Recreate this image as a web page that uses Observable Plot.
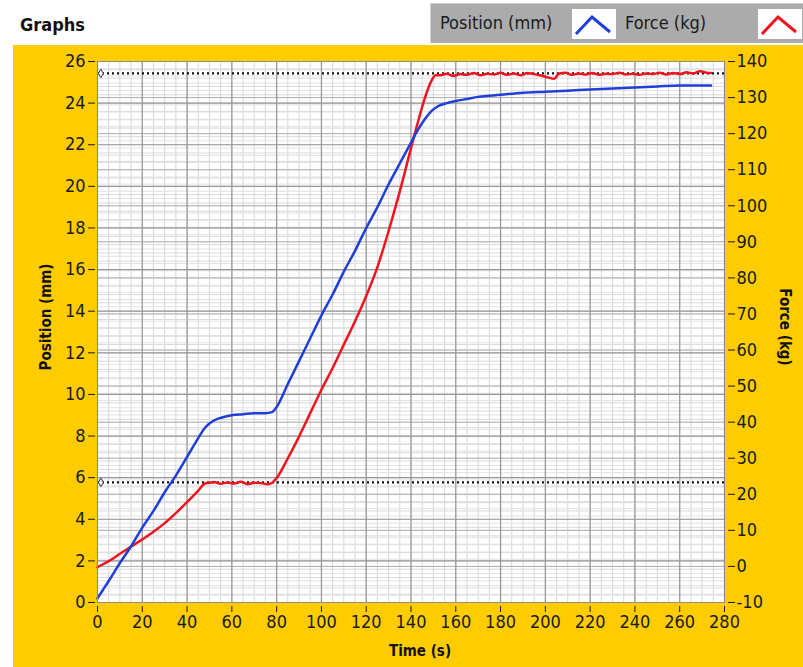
<!DOCTYPE html>
<html>
<head>
<meta charset="utf-8">
<script src="https://cdn.jsdelivr.net/npm/d3@7"></script>
<script src="https://cdn.jsdelivr.net/npm/@observablehq/plot@0.6"></script>
<style>
  html, body { margin: 0; padding: 0; background: #ffffff; }
  #wrap { position: relative; width: 803px; height: 667px; overflow: hidden; font-family: "DejaVu Sans Condensed", "Roboto", sans-serif; }
  #title { position: absolute; left: 20px; top: 14px; font: bold 18px "DejaVu Sans Condensed", "Liberation Sans", sans-serif; color: #111; }
  #legend { position: absolute; left: 430px; top: 3px; width: 373px; height: 40px; background: #ababab; border-top: 1px solid #d0d0d0; border-left: 1px solid #d0d0d0; box-sizing: border-box; }
  .ltxt { position: absolute; top: 8px; font: 18px "DejaVu Sans Condensed", sans-serif; color: #1a1a1a; }
  .lbox { position: absolute; top: 5px; width: 44px; height: 30px; background: #fff; }
  #panel { position: absolute; left: 13px; top: 45px; width: 790px; height: 622px; background: #ffcc00; }
  .axlabel { position: absolute; font: bold 15px "DejaVu Sans Condensed", "Liberation Sans", sans-serif; color: #111; white-space: nowrap; }
</style>
</head>
<body>
<div id="wrap">
  <div id="title">Graphs</div>
  <div id="legend"></div>
  <div id="panel"></div>
</div>
<script>
// ---------------- data ----------------
const seriesNames = ["Position (mm)", "Force (kg)"];
const seriesColors = ["#1f3fd8", "#f0141e"];

const posTime = [0,3,6,10,15,20,25,30,35,40,45,48,50,53,56,60,65,70,75,78,80,85,90,95,100,105,110,115,120,125,130,135,140,143,146,149,152,156,160,165,170,180,190,200,210,220,230,240,250,260,270,274];
const posMm   = [0.2,0.7,1.2,1.9,2.7,3.6,4.4,5.3,6.1,7.0,7.9,8.4,8.6,8.8,8.9,9.0,9.05,9.1,9.1,9.15,9.4,10.5,11.6,12.7,13.8,14.8,15.9,16.9,18.0,19.0,20.1,21.1,22.1,22.7,23.2,23.6,23.85,24.0,24.1,24.2,24.3,24.4,24.5,24.55,24.6,24.65,24.7,24.75,24.8,24.85,24.85,24.85];

const forceTime = [0,3,6,10,15,20,25,30,35,40,45,48,50,52,55,58,61,64,67,70,73,76,78,80,85,90,95,100,105,110,115,120,125,130,135,140,143,146,149,151,
  153,156,159,162,165,168,171,174,177,180,183,186,189,192,195,198,201,204,206,209,212,215,218,221,224,227,230,233,236,239,242,245,248,251,254,257,260,263,266,269,272,274];
const forceKg = [-0.2,0.8,1.8,3.5,5.5,7.5,9.6,12.0,14.8,17.8,21.0,23.0,23.2,23.4,22.9,23.3,23.0,23.5,22.8,23.2,23.1,22.8,23.2,24.5,30,36,42.5,49,55,61.5,68,75,83,93,104,116,123,129.5,134.5,136.2,
  136.2,136.6,136.0,136.5,136.3,136.8,136.2,136.6,136.4,136.9,136.3,136.7,136.2,136.8,136.5,136.1,135.6,135.2,136.6,136.9,136.3,136.7,136.4,136.8,136.3,136.6,136.5,136.9,136.4,136.6,136.3,136.7,136.5,136.9,136.4,136.8,136.5,137.0,136.7,137.3,136.9,136.8];

const cursorKg = [136.7, 23.3];
const cursorTime = [1.5, 1.5];

const timeTicks = [0,20,40,60,80,100,120,140,160,180,200,220,240,260,280];
const posTicks = [0,2,4,6,8,10,12,14,16,18,20,22,24,26];
const forceTicks = [-10,0,10,20,30,40,50,60,70,80,90,100,110,120,130,140];
const timeMinor = d3.range(0, 281, 5);
const posMinor = d3.range(0, 26.01, 0.4);
const forceMinor = d3.range(-10, 140.01, 2);

const xTitle = "Time (s)";
const yTitle = "Position (mm)";
const y2Title = "Force (kg)";

// force (kg) mapped onto the position (mm) scale: -10..140 kg <-> 0..26 mm
const kgToMm = k => (k + 10) * 26 / 150;
const mmToKg = m => m * 150 / 26 - 10;

// ---------------- chart ----------------
const W = 790, H = 622;
const chart = Plot.plot({
  width: W, height: H,
  marginLeft: 84, marginRight: 79, marginTop: 16, marginBottom: 65,
  style: { background: "transparent", fontFamily: "'DejaVu Sans Condensed',sans-serif", fontSize: "18px", color: "#1a1a1a", overflow: "visible" },
  x: { domain: [0, 280] },
  y: { domain: [0, 26] },
  marks: [
    Plot.frame({ fill: "white", stroke: null }),
    Plot.ruleX(timeMinor, { stroke: "#d6d6d6", strokeWidth: 1 }),
    Plot.ruleY(posMinor, { stroke: "#dadada", strokeWidth: 1 }),
    Plot.ruleY(forceMinor.map(kgToMm), { stroke: "#e2e2e2", strokeWidth: 1 }),
    Plot.ruleY(forceTicks.map(kgToMm), { stroke: "#b0b0b0", strokeWidth: 1 }),
    Plot.ruleY(posTicks, { stroke: "#969696", strokeWidth: 1.2 }),
    Plot.ruleX(timeTicks, { stroke: "#969696", strokeWidth: 1.2 }),
    Plot.ruleY(cursorKg.map(kgToMm), { stroke: "#111", strokeWidth: 2.2, strokeDasharray: "2,3" }),
    Plot.dot(cursorKg, { x: cursorTime, y: cursorKg.map(kgToMm), symbol: "diamond", r: 2.6, stroke: "#333", fill: "white", strokeWidth: 1 }),
    Plot.line(forceKg, { x: forceTime, y: forceKg.map(kgToMm), stroke: seriesColors[1], strokeWidth: 2.5, curve: "monotone-x" }),
    Plot.line(posMm, { x: posTime, y: posMm, stroke: seriesColors[0], strokeWidth: 2.5, curve: "monotone-x" }),
    Plot.frame({ stroke: "#8c8c8c", strokeWidth: 1 }),
    Plot.axisX(timeTicks, { anchor: "bottom", tickSize: 6, dy: 4, tickPadding: 3, label: null, tickFormat: d => String(d) }),
    Plot.axisY(posTicks, { anchor: "left", tickSize: 7, dx: -2, tickPadding: 3, label: null, tickFormat: d => String(d) }),
    Plot.axisY(forceTicks.map(kgToMm), { anchor: "right", tickSize: 7, dx: 3, tickPadding: 2, label: null, tickFormat: d => String(Math.round(mmToKg(d))) })
  ]
});
document.getElementById("panel").appendChild(chart);

// axis titles
const panel = document.getElementById("panel");
function addLabel(text, css) {
  const el = document.createElement("div");
  el.className = "axlabel";
  el.textContent = text;
  Object.assign(el.style, css);
  panel.appendChild(el);
}
addLabel(xTitle, { left: "407px", top: "597px", transform: "translateX(-50%)" });
addLabel(yTitle, { left: "33px", top: "272px", transform: "translate(-50%,-50%) rotate(-90deg)" });
addLabel(y2Title, { left: "772px", top: "282px", transform: "translate(-50%,-50%) rotate(90deg)" });

// legend
const legend = document.getElementById("legend");
const legendX = [[9, 141], [194, 327]];
seriesNames.forEach((name, i) => {
  const t = document.createElement("div");
  t.className = "ltxt";
  t.textContent = name;
  t.style.left = legendX[i][0] + "px";
  legend.appendChild(t);
  const b = document.createElement("div");
  b.className = "lbox";
  b.style.left = legendX[i][1] + "px";
  b.innerHTML = `<svg width="44" height="30"><polyline points="4,25 20,8 38,23" fill="none" stroke="${seriesColors[i]}" stroke-width="3"/></svg>`;
  legend.appendChild(b);
});
</script>
</body>
</html>
